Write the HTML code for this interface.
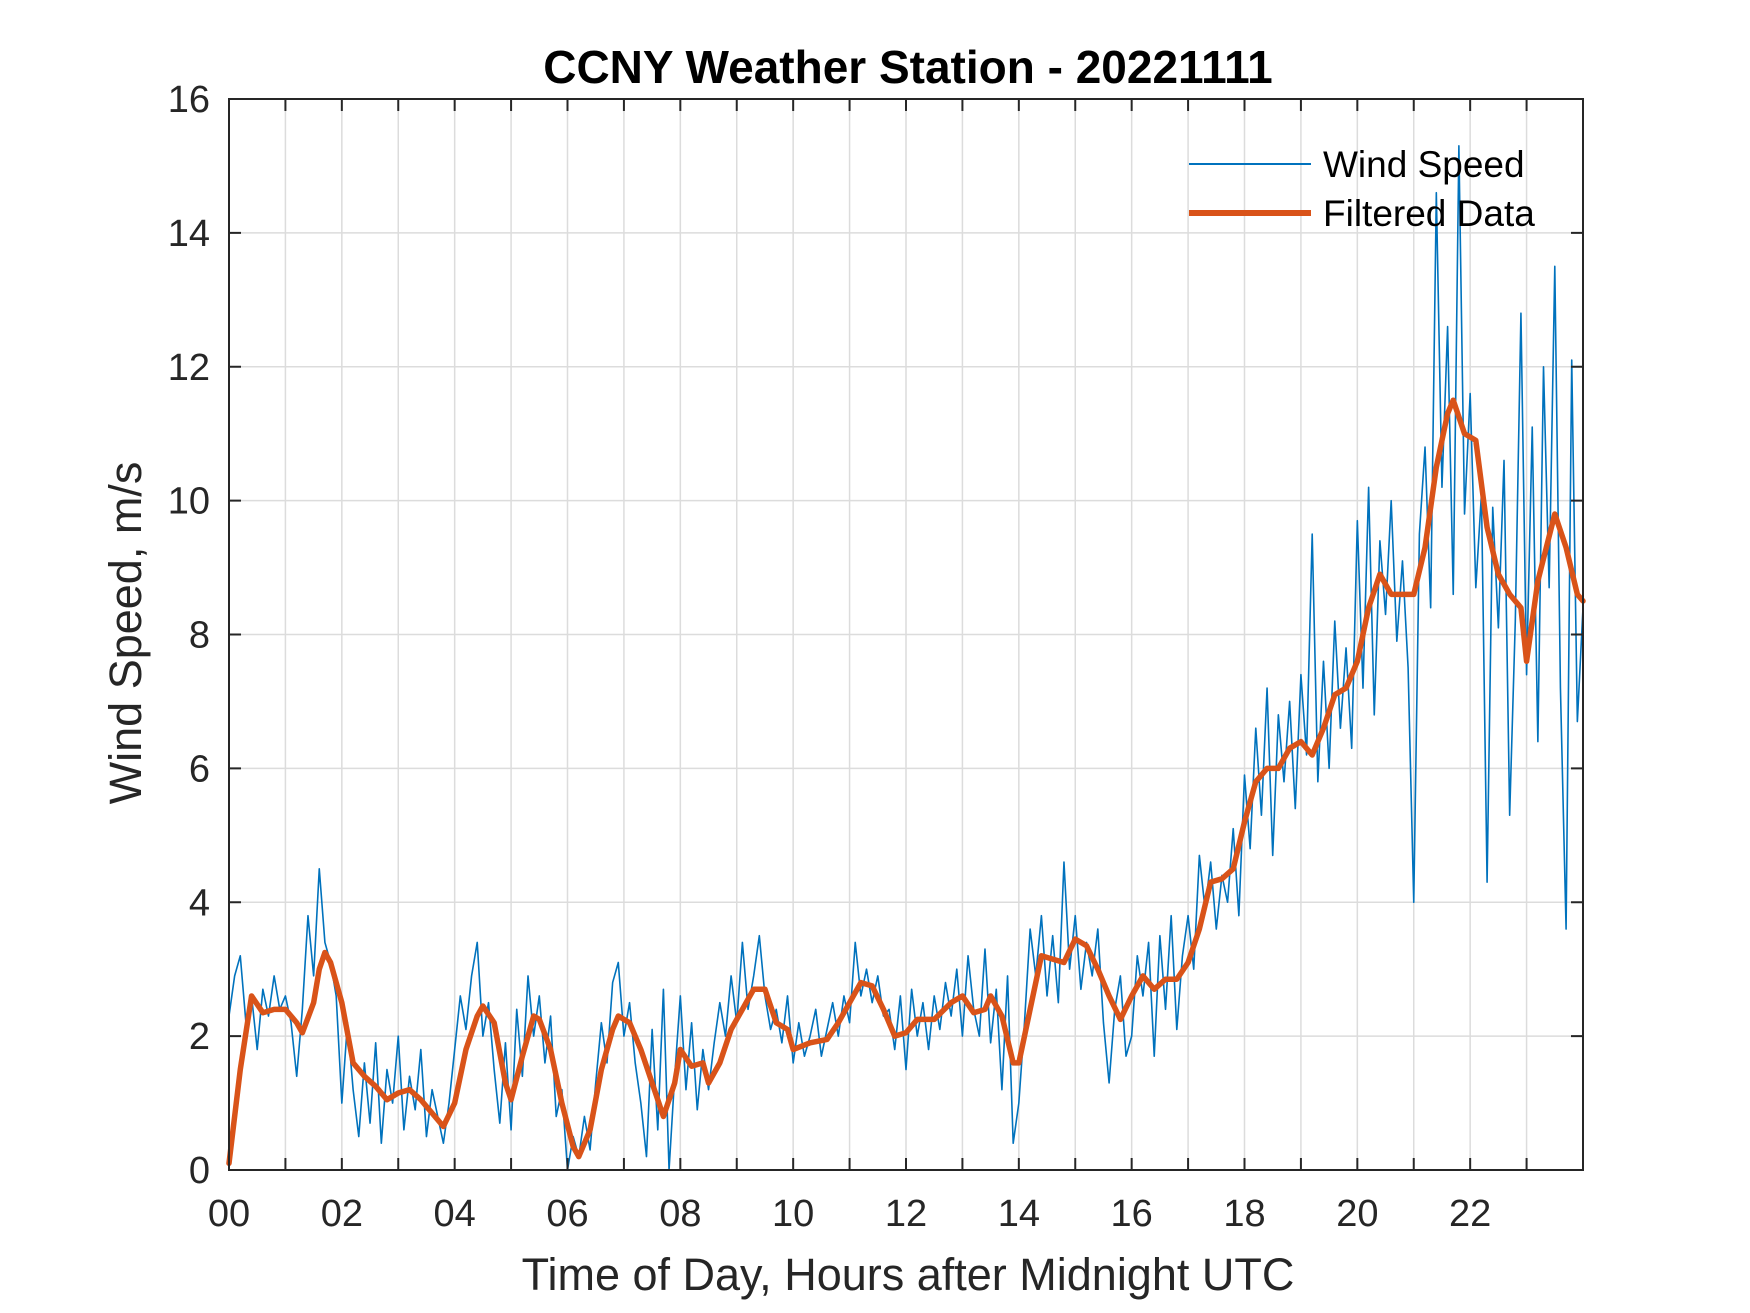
<!DOCTYPE html>
<html><head><meta charset="utf-8"><style>
html,body{margin:0;padding:0;background:#fff;}
svg{display:block;font-family:"Liberation Sans",Arial,sans-serif;}
</style></head><body>
<svg id="chart" width="1750" height="1313" viewBox="0 0 1750 1313">
<rect x="0" y="0" width="1750" height="1313" fill="#fff"/>
<g id="grid"></g>
<g id="series"></g>
<g id="axes"></g>
<text x="908" y="83" text-anchor="middle" font-size="46" font-weight="bold" fill="#000">CCNY Weather Station - 20221111</text>
<text x="908" y="1290" text-anchor="middle" font-size="45" fill="#262626">Time of Day, Hours after Midnight UTC</text>
<text transform="translate(141,633) rotate(-90)" text-anchor="middle" font-size="45" fill="#262626">Wind Speed, m/s</text>
<g>
<line x1="1189" y1="164" x2="1311" y2="164" stroke="#0072BD" stroke-width="2"/>
<text x="1323" y="177" font-size="37" fill="#000">Wind Speed</text>
<line x1="1189" y1="213" x2="1311" y2="213" stroke="#D95319" stroke-width="6"/>
<text x="1323" y="226" font-size="37" fill="#000">Filtered Data</text>
</g>
</svg>
<script>
const rawValues = [
2.3,2.9,3.2,2.2,2.6,1.8,2.7,2.3,2.9,2.4,
2.6,2.2,1.4,2.4,3.8,2.9,4.5,3.4,3.1,2.6,
1.0,2.2,1.2,0.5,1.6,0.7,1.9,0.4,1.5,1.0,
2.0,0.6,1.4,0.9,1.8,0.5,1.2,0.8,0.4,1.0,
1.8,2.6,2.1,2.9,3.4,2.0,2.5,1.5,0.7,1.9,
0.6,2.4,1.4,2.9,2.0,2.6,1.6,2.3,0.8,1.2,
0.0,0.5,0.2,0.8,0.3,1.3,2.2,1.6,2.8,3.1,
2.0,2.5,1.6,1.0,0.2,2.1,0.6,2.7,0.0,1.4,
2.6,1.2,2.2,0.9,1.8,1.2,1.9,2.5,2.0,2.9,
2.2,3.4,2.4,2.9,3.5,2.6,2.1,2.4,1.9,2.6,
1.6,2.2,1.7,2.0,2.4,1.7,2.1,2.5,2.0,2.6,
2.2,3.4,2.6,3.0,2.5,2.9,2.3,2.4,1.8,2.6,
1.5,2.7,2.0,2.5,1.8,2.6,2.1,2.8,2.3,3.0,
2.0,3.2,2.4,2.0,3.3,1.9,2.7,1.2,2.9,0.4,
1.0,2.2,3.6,2.9,3.8,2.6,3.5,2.5,4.6,3.0,
3.8,2.7,3.4,2.9,3.6,2.2,1.3,2.4,2.9,1.7,
2.0,3.2,2.6,3.4,1.7,3.5,2.4,3.8,2.1,3.2,
3.8,3.0,4.7,3.9,4.6,3.6,4.4,4.0,5.1,3.8,
5.9,4.8,6.6,5.3,7.2,4.7,6.8,5.8,7.0,5.4,
7.4,6.2,9.5,5.8,7.6,6.0,8.2,6.6,7.8,6.3,
9.7,7.2,10.2,6.8,9.4,8.3,10.0,7.9,9.1,7.5,
4.0,9.5,10.8,8.4,14.6,10.2,12.6,8.6,15.3,9.8,
11.6,8.7,10.1,4.3,9.9,8.1,10.6,5.3,8.2,12.8,
7.4,11.1,6.4,12.0,8.7,13.5,7.2,3.6,12.1,6.7,
8.4];
const rawStepHours = 0.1;
const filteredHours = [0,0.2,0.4,0.6,0.8,1.0,1.2,1.3,1.5,1.6,1.7,1.8,2.0,2.2,2.4,2.6,2.8,3.0,3.2,3.4,3.6,3.8,4.0,4.2,4.4,4.5,4.7,4.9,5.0,5.2,5.4,5.5,5.7,5.9,6.1,6.2,6.4,6.6,6.8,6.9,7.1,7.3,7.5,7.7,7.9,8.0,8.2,8.4,8.5,8.7,8.9,9.1,9.3,9.5,9.7,9.9,10.0,10.3,10.6,10.8,11.0,11.2,11.4,11.6,11.8,12.0,12.2,12.5,12.8,13.0,13.2,13.4,13.5,13.7,13.9,14.0,14.2,14.4,14.6,14.8,15.0,15.2,15.4,15.6,15.8,16.0,16.2,16.4,16.6,16.8,17.0,17.2,17.4,17.6,17.8,18.0,18.2,18.4,18.6,18.8,19.0,19.2,19.4,19.6,19.8,20.0,20.2,20.4,20.6,20.8,21.0,21.2,21.4,21.6,21.7,21.9,22.1,22.3,22.5,22.7,22.9,23.0,23.2,23.5,23.7,23.9,24.0];
const filteredValues = [0.1,1.5,2.6,2.35,2.4,2.4,2.2,2.05,2.5,3.0,3.25,3.1,2.5,1.6,1.4,1.25,1.05,1.15,1.2,1.05,0.85,0.65,1.0,1.8,2.3,2.45,2.2,1.3,1.05,1.7,2.3,2.25,1.8,1.0,0.35,0.2,0.6,1.5,2.1,2.3,2.2,1.8,1.3,0.8,1.3,1.8,1.55,1.6,1.3,1.6,2.1,2.4,2.7,2.7,2.2,2.1,1.8,1.9,1.95,2.2,2.5,2.8,2.75,2.4,2.0,2.05,2.25,2.25,2.5,2.6,2.35,2.4,2.6,2.3,1.6,1.6,2.4,3.2,3.15,3.1,3.45,3.35,3.0,2.6,2.25,2.6,2.9,2.7,2.85,2.85,3.1,3.6,4.3,4.35,4.5,5.2,5.8,6.0,6.0,6.3,6.4,6.2,6.6,7.1,7.2,7.6,8.4,8.9,8.6,8.6,8.6,9.3,10.5,11.3,11.5,11.0,10.9,9.6,8.9,8.6,8.4,7.6,8.8,9.8,9.3,8.6,8.5];
const yTicks = [0,2,4,6,8,10,12,14,16];
const xTickLabels = ["00","02","04","06","08","10","12","14","16","18","20","22"];

const NS="http://www.w3.org/2000/svg";
const L=229,R=1583,T=99,B=1170;
const xS=h=>L+(R-L)*h/24;
const yS=v=>B-(B-T)*v/16;
function mk(tag,attrs,parent){const e=document.createElementNS(NS,tag);for(const k in attrs)e.setAttribute(k,attrs[k]);parent.appendChild(e);return e;}
const grid=document.getElementById('grid'),axes=document.getElementById('axes'),series=document.getElementById('series');
for(let h=1;h<24;h++){const g=mk('line',{x1:xS(h),x2:xS(h),y1:T,y2:B,stroke:'#dcdcdc','stroke-width':1.5},grid);

}
yTicks.forEach(v=>{if(v>0&&v<16){const g=mk('line',{x1:L,x2:R,y1:yS(v),y2:yS(v),stroke:'#dcdcdc','stroke-width':1.5},grid);

}});
let d='';rawValues.forEach((v,i)=>{d+=(i?'L':'M')+xS(i*rawStepHours).toFixed(2)+','+yS(v).toFixed(2);});
const p1=mk('path',{d:d,fill:'none',stroke:'#0072BD','stroke-width':1.6,'stroke-linejoin':'round'},series);


let d2='';filteredValues.forEach((v,i)=>{d2+=(i?'L':'M')+xS(filteredHours[i]).toFixed(2)+','+yS(v).toFixed(2);});
const p2=mk('path',{d:d2,fill:'none',stroke:'#D95319','stroke-width':5.5,'stroke-linejoin':'round','stroke-linecap':'round'},series);


const box=mk('rect',{x:L,y:T,width:R-L,height:B-T,fill:'none',stroke:'#262626','stroke-width':2},axes);


for(let h=0;h<24;h++){
  const t1=mk('line',{x1:xS(h),x2:xS(h),y1:B,y2:B-12,stroke:'#262626','stroke-width':2},axes);
  
  
  const t2=mk('line',{x1:xS(h),x2:xS(h),y1:T,y2:T+12,stroke:'#262626','stroke-width':2},axes);
  
  
}
xTickLabels.forEach((s,i)=>{const t=mk('text',{x:xS(i*2),y:1226,'text-anchor':'middle','font-size':38,fill:'#262626'},axes);t.textContent=s;

});
yTicks.forEach(v=>{
  const a=mk('line',{x1:L,x2:L+12,y1:yS(v),y2:yS(v),stroke:'#262626','stroke-width':2},axes);
  
  
  const b=mk('line',{x1:R,x2:R-12,y1:yS(v),y2:yS(v),stroke:'#262626','stroke-width':2},axes);
  
  
  const t=mk('text',{x:210,y:yS(v)+13,'text-anchor':'end','font-size':38,fill:'#262626'},axes);t.textContent=v;
  
  
});
</script>
</body></html>
